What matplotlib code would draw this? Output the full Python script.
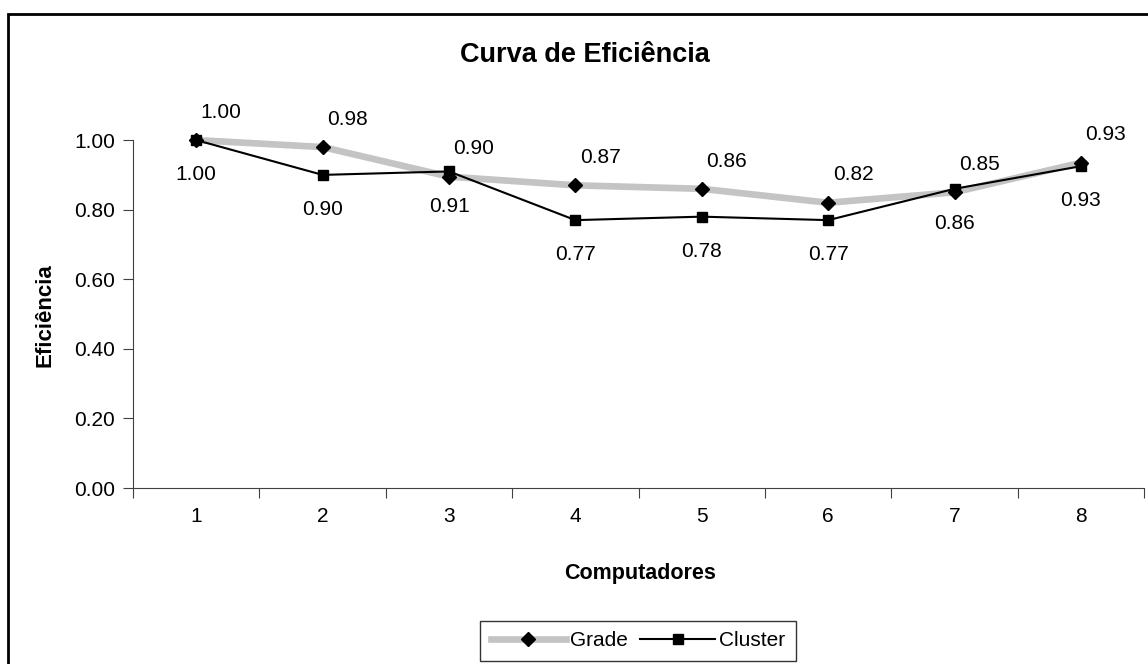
import numpy as np
import matplotlib.pyplot as plt
from matplotlib.patches import Rectangle

plt.rcParams['font.family'] = ['Liberation Sans', 'DejaVu Sans']

computadores = [1, 2, 3, 4, 5, 6, 7, 8]
grade = [1.00, 0.98, 0.895, 0.87, 0.86, 0.82, 0.85, 0.935]
cluster = [1.00, 0.90, 0.91, 0.77, 0.78, 0.77, 0.86, 0.925]
grade_labels = ['1.00', '0.98', '0.90', '0.87', '0.86', '0.82', '0.85', '0.93']
cluster_labels = ['1.00', '0.90', '0.91', '0.77', '0.78', '0.77', '0.86', '0.93']
yticks = [0.0, 0.2, 0.4, 0.6, 0.8, 1.0]

fig = plt.figure(figsize=(11.48, 6.64), dpi=100)
ax = fig.add_axes([0.1159, 0.265, 0.8807, 0.524])

# moldura da figura (só esquerda e topo aparecem)
fig.patches.append(Rectangle((8 / 1148, -0.01), 1.01, 1 - 14 / 664 + 0.01,
                             transform=fig.transFigure, fill=False,
                             edgecolor='black', linewidth=2))

ax.plot(computadores, grade, color='#c4c4c4', linewidth=4.8, marker='D',
        markersize=7.5, markerfacecolor='black', markeredgecolor='black',
        label='Grade', clip_on=False, zorder=3)
ax.plot(computadores, cluster, color='black', linewidth=1.5, marker='s',
        markersize=7.5, markerfacecolor='black', markeredgecolor='black',
        label='Cluster', clip_on=False, zorder=4)

for x, y, t in zip(computadores, grade, grade_labels):
    ax.annotate(t, (x, y), xytext=(18, 20), textcoords='offset points',
                ha='center', va='center', fontsize=15)
for x, y, t in zip(computadores, cluster, cluster_labels):
    ax.annotate(t, (x, y), xytext=(0, -25), textcoords='offset points',
                ha='center', va='center', fontsize=15)

ax.set_xlim(0.5, 8.5)
ax.set_ylim(0, 1.0)
ax.set_yticks(yticks)
ax.set_yticklabels([f'{v:.2f}' for v in yticks], fontsize=15)
ax.set_xticks(np.arange(0.5, 9.0, 1.0))
ax.set_xticklabels([])
ax.set_xticks(computadores, [str(c) for c in computadores], minor=True, fontsize=15)
ax.tick_params(axis='x', which='minor', length=0, pad=14)
ax.tick_params(axis='x', which='major', length=7, color='#404040')
ax.tick_params(axis='y', length=7, color='#404040', pad=6)

for s in ['top', 'right']:
    ax.spines[s].set_visible(False)
for s in ['left', 'bottom']:
    ax.spines[s].set_color('#404040')

fig.text(585 / 1148, 1 - 55 / 664, 'Curva de Eficiência', ha='center', va='center',
         fontsize=19.5, fontweight='bold')
fig.text(640 / 1148, 1 - 573 / 664, 'Computadores', ha='center', va='center',
         fontsize=15.5, fontweight='bold')
fig.text(45 / 1148, 1 - 315 / 664, 'Eficiência', ha='center', va='center',
         fontsize=16, fontweight='bold', rotation=90)

leg = fig.legend(loc='center', bbox_to_anchor=(638 / 1148, 1 - 641 / 664), ncol=2,
                 fontsize=15, frameon=True, fancybox=False, edgecolor='black',
                 handlelength=3.6, columnspacing=0.6, handletextpad=0.2,
                 borderpad=0.5)
leg.get_frame().set_linewidth(1.0)

fig.savefig('out.png', dpi=100)
